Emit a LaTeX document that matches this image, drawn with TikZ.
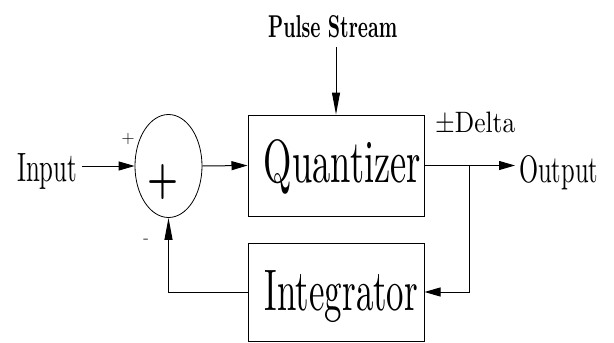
\documentclass[tikz,border=0pt]{standalone}
\usetikzlibrary{shapes.geometric, arrows.meta}

\tikzset{
  block/.style={draw, line width=1pt, minimum width=176pt, inner sep=0pt},
  sumnode/.style={ellipse, draw, line width=0.8pt, minimum width=67pt,
    minimum height=103pt, inner sep=0pt},
  word/.style={inner sep=0pt, anchor=base west},
  sign/.style={font=\fontsize{18}{18}\selectfont, inner sep=0pt},
  arr/.style={line width=1pt, -{Triangle[length=16pt, width=9pt]}},
  varr/.style={line width=1pt, -{Triangle[length=22pt, width=8pt]}},
}

\begin{document}
\begin{tikzpicture}[x=1pt, y=-1pt]
  \useasboundingbox (0,0) rectangle (614,343);
  % blocks
  \node[sumnode] (sum) at (168.5,166) {};
  \node[inner sep=0pt] (plus) at (163.5,182.5) {\resizebox*{31pt}{35pt}{\bfseries +}};
  \node[block, minimum height=101pt, text height=43pt, text depth=10pt] (quant) at (336,165.5)
    {\hspace*{13pt}\resizebox{157pt}{43pt}{Quantizer}};
  \node[block, minimum height=98pt, text height=40pt, text depth=4pt] (integ) at (336,292)
    {\hspace*{11pt}\resizebox{153pt}{40pt}{Integrator}};
  % labels
  \node[word] (in) at (17,181) {\resizebox{60pt}{28pt}{Input}};
  \node[word] (out) at (519,182) {\resizebox{79pt}{27pt}{Output}};
  \node[word, font=\bfseries] (pulse) at (268,37) {\resizebox{129pt}{22pt}{Pulse Stream}};
  \node[word] (delta) at (435,132) {\resizebox{80pt}{20.5pt}{±Delta}};
  \node[sign] (pos) at (128,139) {+};
  \node[sign] (neg) at (146,241) {-};
  % signal paths
  \coordinate (split) at ([xshift=45pt]quant.east);
  \coordinate (pin) at (quant.north |- pulse.south);
  \draw[arr] ([xshift=5pt]in.east |- sum.west) -- (sum.west);
  \draw[arr] (sum.east) -- (quant.west);
  \draw[arr] (quant.east) -- ([xshift=-4pt]quant.east -| out.west);
  \draw[arr] (split) |- (integ.east);
  \draw[varr] (integ.west) -| (sum.south);
  \draw[varr] ([yshift=-9pt]pin) -- (quant.north);
\end{tikzpicture}
\end{document}
